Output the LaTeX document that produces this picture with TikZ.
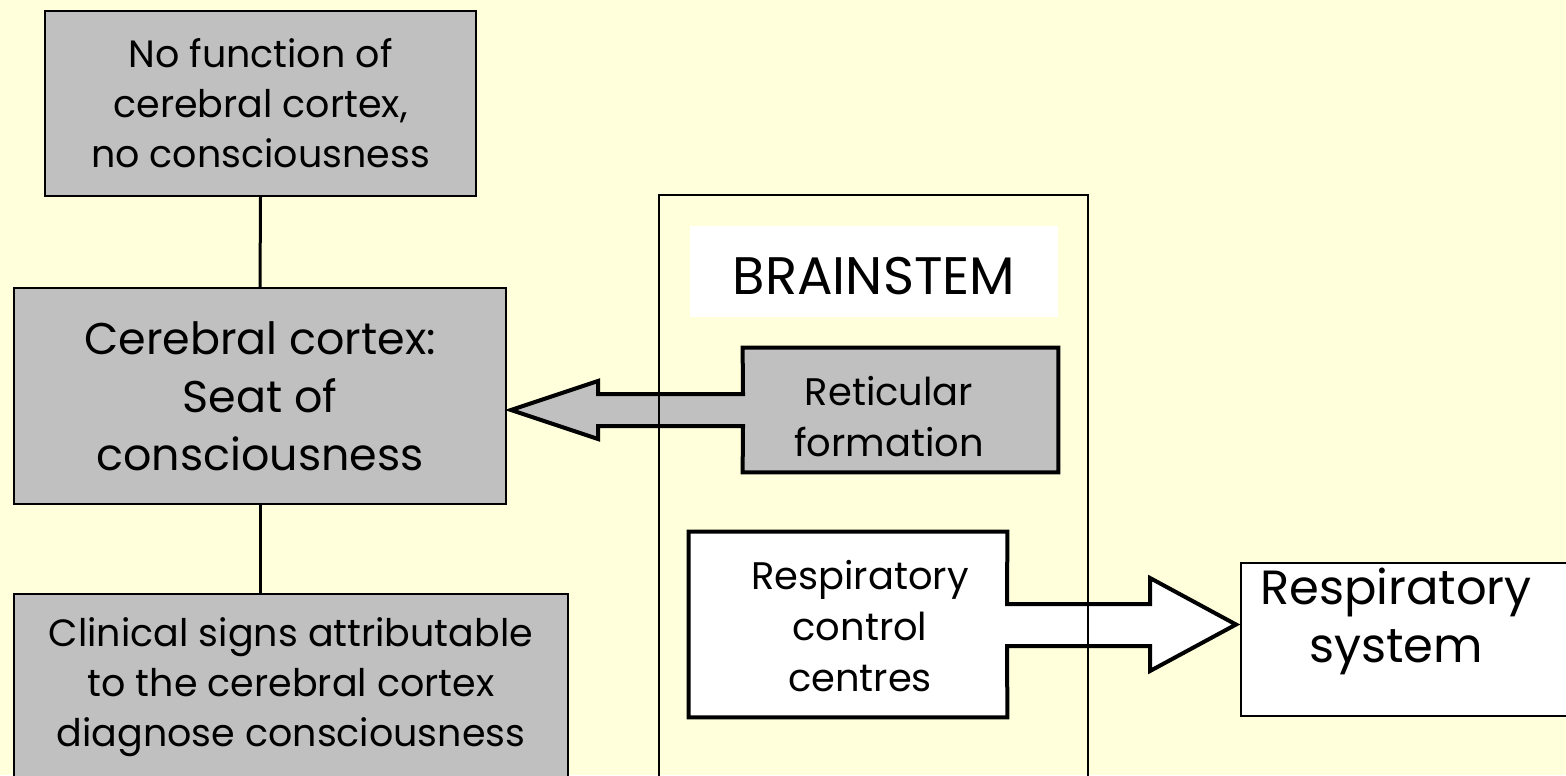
\documentclass[tikz,border=0pt]{standalone}
\usepackage{fontspec}
\setmainfont{Poppins}
\definecolor{bg}{HTML}{FFFFDC}
\definecolor{boxgray}{HTML}{C0C0C0}
\tikzset{
  box/.style={draw=black, line width=1pt, inner sep=0pt, align=center},
  graybox/.style={box, fill=boxgray},
  whitebox/.style={box, fill=white},
  smalltext/.style={font=\fontsize{19pt}{25pt}\selectfont},
  bigtext/.style={font=\fontsize{22.2pt}{29pt}\selectfont},
  midtext/.style={font=\fontsize{19.2pt}{25.5pt}\selectfont, align=center, inner sep=0pt},
  bigplain/.style={font=\fontsize{24pt}{29pt}\selectfont, align=center, inner sep=0pt},
  labeltext/.style={font=\fontsize{26.4pt}{30pt}\selectfont, align=center, inner sep=0pt},
  fatshape/.style={draw=black, line width=2pt, line join=miter},
  link/.style={draw=black, line width=1.5pt},
  frame/.style={draw=black, line width=1pt, inner sep=0pt},
  hollow/.style={inner sep=0pt},
}
\begin{document}
\begin{tikzpicture}[x=0.5pt,y=-0.5pt]
\useasboundingbox (0,0) rectangle (1566,775);
\clip (0,0) rectangle (1566,775);
\fill[bg] (0,0) rectangle (1566,775);

% left column
\node[graybox, smalltext, minimum width=215.5pt, minimum height=92.5pt] (nofunc) at (260.5,103.5)
  {No function of\\cerebral cortex,\\no consciousness};
\node[graybox, bigtext, minimum width=246pt, minimum height=108pt] (cortex) at (260,396)
  {Cerebral cortex:\\Seat of\\consciousness};
\node[graybox, minimum width=277pt, minimum height=93pt] (clinical) at (291,687) {};
\node[smalltext, align=center, inner sep=0pt] (clintext) at (291,687)
  {Clinical signs attributable\\to the cerebral cortex\\diagnose consciousness};

\draw[link] (nofunc.south) -- (cortex.north);
\draw[link] (cortex.south) -- (cortex.south |- clinical.north);

% reticular formation with arrow
\node[hollow, minimum width=157.5pt, minimum height=62pt] (retic) at (900.5,410) {};
\draw[fatshape, fill=boxgray] (retic.north west) -- (retic.north east) -- (retic.south east)
  -- (retic.south west) -- (743,426) -- (598,426) -- (598,439)
  -- ([xshift=2pt]cortex.east |- retic.west) -- (598,381) -- (598,394) -- (743,394) -- cycle;
\node[midtext] (rettext) at (889,417) {Reticular\\formation};

% respiratory system
\node[whitebox, minimum width=179.5pt, minimum height=76.5pt] (resps) at (1420.5,639.5) {};
\node[bigplain] (rstext) at (1396,621) {Respiratory\\system};

% respiratory control centres with arrow
\node[hollow, minimum width=159pt, minimum height=92.5pt] (respc) at (848,624.5) {};
\draw[fatshape, fill=white] (respc.north west) -- (respc.north east) -- (1007,604) -- (1150,604)
  -- (1150,578) -- ([xshift=-2pt]resps.west |- respc.east) -- (1150,671) -- (1150,646) -- (1007,646)
  -- (respc.south east) -- (respc.south west) -- cycle;
\node[midtext] (rctext) at (860,626) {Respiratory\\control\\centres};

% brainstem frame
\node[frame, minimum width=214.5pt, minimum height=302.5pt] (brainstem) at (873.5,497.5) {};
\node[fill=white, inner sep=0pt, minimum width=184pt, minimum height=45.5pt] (bslabel) at (874,271.5) {};
\node[labeltext] (bstext) at (874,276.5) {BRAINSTEM};
\end{tikzpicture}
\end{document}
